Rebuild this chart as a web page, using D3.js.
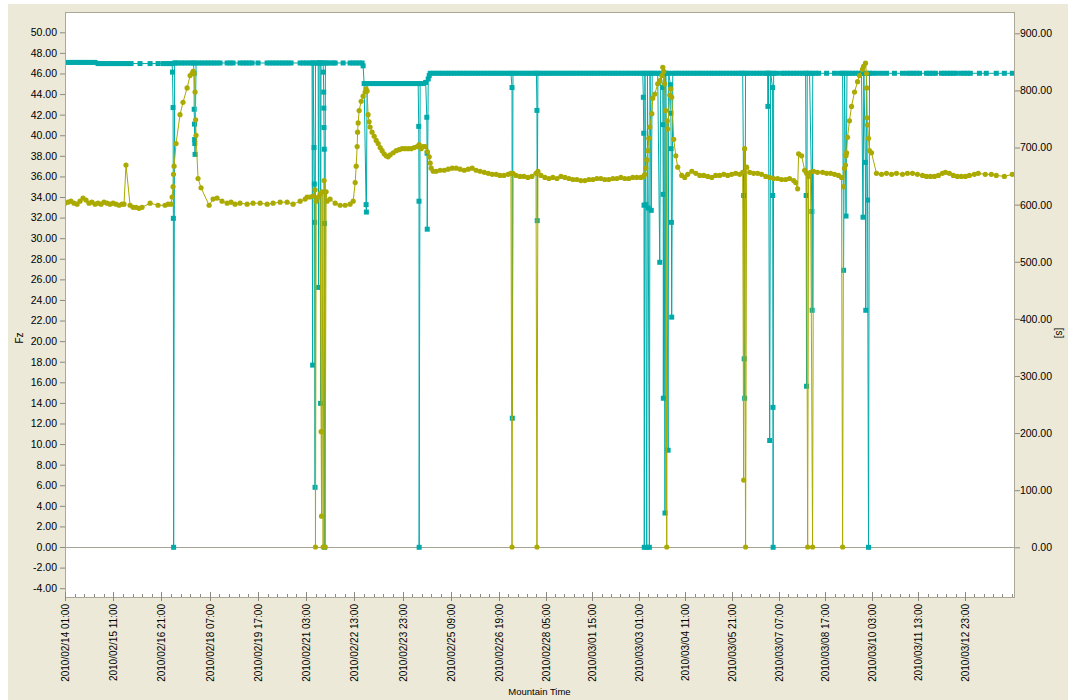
<!DOCTYPE html>
<html>
<head>
<meta charset="utf-8">
<script src="https://cdn.jsdelivr.net/npm/d3@7"></script>
<style>
  html, body { margin: 0; padding: 0; background: #ffffff; }
  svg { display: block; }
</style>
</head>
<body>
<svg id="chart" width="1068" height="700"></svg>
<script>
// ---- Data -------------------------------------------------------------
// Sample times are hours after 2010/02/14 01:00 (Mountain Time).

// Fz series (left axis)
const fzHours = [
  0.0, 2.1, 4.2, 6.3, 8.5, 10.6, 12.7, 14.8, 16.9, 19.0, 21.2, 23.3, 25.4, 27.5, 29.6, 31.7, 33.9, 36.0, 38.1, 40.2, 41.6,
  43.0, 45.9, 48.0, 50.1, 52.2, 54.3, 60.0, 65.6, 70.5, 72.7, 74.8,
  75.5, 76.2, 76.5, 76.9, 78.3, 81.1, 83.2, 86.1, 88.2, 89.6, 90.3, 91.0, 91.7, 92.1, 92.4, 93.8, 95.9,
  101.6, 104.4, 107.2, 110.7, 114.3, 117.1, 119.9, 123.4, 128.4, 132.6, 137.6, 142.5, 146.7, 151.7, 156.6, 160.8, 165.8, 169.3, 170.7, 172.8, 174.9,
  176.3, 176.6, 177.1, 178.5, 179.9, 180.6, 180.9, 181.3, 182.0, 182.7, 183.4, 184.1, 184.8,
  186.9, 190.5, 194.0, 197.5, 201.0, 203.2,
  204.6, 205.3, 206.0, 206.3, 206.7, 207.4, 208.8, 210.2, 211.6, 212.3, 213.0, 213.7, 214.4, 215.1, 216.5, 218.0, 219.4, 220.8, 222.2, 223.6, 225.0,
  226.4, 227.8, 229.3, 231.4, 233.5, 235.6, 237.7, 239.8, 242.0, 244.1, 246.2, 248.3, 249.7, 251.1, 252.5, 253.9, 255.4, 256.8, 257.5, 258.2, 259.6,
  261.7, 264.5, 267.4, 270.2, 273.0, 275.8, 278.6, 281.5, 284.3, 287.1, 289.9, 292.7, 295.6, 298.4, 301.2, 304.0, 306.7, 309.6, 312.6, 314.7,
  315.5, 316.2, 318.4, 321.3, 324.2, 327.1, 330.0, 333.0, 333.7, 334.4, 336.6, 339.5, 342.4, 345.3, 348.3, 351.2, 354.1, 357.0, 359.9, 362.8,
  365.7, 368.7, 371.6, 374.5, 377.4, 380.3, 383.2, 386.1, 389.1, 392.0, 394.9, 397.8, 400.7, 403.6, 406.5, 409.5, 411.6,
  412.4, 413.1, 413.8, 414.6, 415.3, 416.0, 417.5, 418.2, 419.7, 421.8, 423.3, 424.8, 425.5, 426.2, 426.9, 427.7, 428.4, 428.8, 429.1, 430.6, 431.3, 432.0, 433.5, 435.0, 436.4,
  439.3, 441.5, 443.7, 446.7, 449.6, 452.5, 455.4, 458.3, 461.2, 464.1, 467.0, 470.0, 472.9, 475.8, 478.7, 481.6, 483.8,
  484.5, 485.2, 485.9, 486.7,
  488.9, 491.8, 494.7, 497.6, 500.6, 503.5, 506.4, 509.3, 512.2, 515.1, 518.0, 521.0, 522.4, 523.9, 524.6, 526.8, 529.0, 530.4, 531.2, 531.9,
  533.3, 534.8, 535.5, 538.4, 542.1, 545.0, 547.9, 550.8, 553.7, 555.9, 556.7,
  557.4, 558.1, 558.8, 559.2, 559.6, 560.3, 561.7, 563.2, 565.4, 567.6, 569.0, 571.2, 572.0, 573.4, 574.1, 574.3, 574.5, 574.9, 575.6, 576.3, 577.8,
  581.4, 585.1, 588.7, 592.4, 596.0, 600.4, 604.0, 607.7, 611.3, 615.0, 617.9, 620.8, 623.7, 626.6, 629.5, 631.7, 634.6, 637.5, 640.4, 643.3,
  646.3, 649.2, 652.8, 655.7, 660.8, 665.2, 668.8, 674.7, 680.5
];
const fzValues = [
  33.4, 33.5, 33.6, 33.4, 33.3, 33.6, 33.9, 33.7, 33.4, 33.5, 33.3, 33.4, 33.3, 33.5, 33.4, 33.3, 33.4, 33.3, 33.2, 33.3, 33.3,
  37.1, 33.2, 33.0, 33.0, 32.9, 33.0, 33.4, 33.2, 33.2, 33.3, 33.3,
  34.0, 35.0, 36.2, 37.0, 39.2, 42.0, 43.2, 44.6, 45.8, 46.0, 46.2, 46.0, 44.2, 41.5, 40.0, 35.8, 34.9,
  33.2, 33.8, 33.9, 33.6, 33.4, 33.5, 33.3, 33.4, 33.3, 33.4, 33.4, 33.3, 33.4, 33.5, 33.5, 33.3, 33.6, 33.8, 34.0, 34.0, 34.1,
  34.7, 0, 33.6, 34.0, 34.3, 11.2, 3.0, 34.5, 0, 35.6, 0, 34.5, 33.6,
  33.8, 33.4, 33.2, 33.2, 33.3, 33.6,
  35.4, 37.0, 38.9, 40.3, 41.2, 42.4, 43.3, 43.8, 44.2, 44.5, 44.3, 42.0, 41.3, 40.8, 40.3, 39.9, 39.5, 39.2, 38.8, 38.5, 38.2,
  38.0, 37.9, 38.1, 38.3, 38.5, 38.6, 38.7, 38.7, 38.7, 38.7, 38.8, 38.9, 39.1, 38.7, 38.9, 38.9, 38.4, 37.9, 37.3, 36.8, 36.5,
  36.5, 36.6, 36.6, 36.7, 36.8, 36.8, 36.7, 36.6, 36.7, 36.8, 36.6, 36.5, 36.4, 36.3, 36.2, 36.2, 36.1, 36.1, 36.2, 36.3,
  0, 36.3, 36.1, 36.0, 36.0, 35.9, 36.0, 36.3, 0, 36.5, 36.1, 35.9, 35.8, 35.9, 35.8, 36.0, 35.9, 35.8, 35.7, 35.7,
  35.6, 35.6, 35.7, 35.7, 35.8, 35.8, 35.7, 35.7, 35.8, 35.8, 35.9, 35.8, 35.8, 35.9, 35.9, 35.9, 36.0,
  36.2, 36.8, 37.6, 38.5, 39.7, 40.8, 42.1, 43.6, 44.0, 45.0, 45.3, 45.8, 46.6, 46.2, 45.0, 42.4, 0, 41.4, 40.6, 43.9, 44.5, 43.7, 39.6, 38.0, 36.9,
  36.1, 35.9, 36.2, 36.5, 36.3, 36.1, 36.1, 36.0, 35.9, 36.1, 36.1, 36.2, 36.1, 36.2, 36.3, 36.2, 36.4,
  6.5, 38.7, 0, 36.9,
  36.4, 36.3, 36.3, 36.2, 36.0, 35.9, 35.8, 35.8, 35.7, 35.7, 35.8, 35.6, 35.4, 34.8, 38.2, 38.0, 36.6, 36.3, 0, 36.0,
  36.4, 0, 36.5, 36.4, 36.4, 36.3, 36.3, 36.2, 36.1, 35.9, 0,
  35.0, 36.8, 37.1, 38.0, 38.3, 39.8, 41.4, 42.8, 44.2, 45.2, 45.8, 46.4, 46.7, 47.0, 46.0, 44.6, 41.7, 41.0, 39.7, 38.5, 38.3,
  36.3, 36.2, 36.3, 36.2, 36.3, 36.2, 36.3, 36.3, 36.2, 36.1, 36.0, 36.0, 36.0, 36.1, 36.3, 36.4, 36.3, 36.1, 36.0, 36.0,
  36.0, 36.1, 36.2, 36.3, 36.2, 36.2, 36.1, 36.0, 36.2
];

// [s] series (right axis)
const secHours = [
  0.0, 2.1, 4.2, 6.3, 8.5, 10.6, 12.7, 14.8, 16.9, 19.0, 21.2, 23.3, 25.4, 27.5, 29.6, 31.7, 33.9, 36.0, 38.1, 40.2,
  42.3, 44.4, 46.6, 52.9, 60.0, 65.6, 69.1, 71.2, 73.4, 75.5,
  75.8, 76.2, 76.4, 76.6, 77.3,
  78.3, 80.4, 82.5, 84.6, 86.8, 88.9, 90.6,
  91.0, 91.1, 91.3, 91.4, 91.5, 91.7, 92.4,
  94.5, 96.6, 98.8, 100.9, 103.0, 105.1, 107.2, 109.3, 114.3, 116.4, 118.5, 123.4, 125.6, 127.7, 129.8, 131.9,
  136.1, 142.5, 144.6, 146.7, 148.8, 151.0, 153.1, 155.2, 157.3, 159.4, 165.8, 167.9, 170.0, 172.1, 174.2,
  174.6, 174.9, 175.6, 175.8, 176.0, 176.3, 176.6, 178.5, 178.8, 179.1, 179.9, 180.2, 180.5,
  182.0, 182.2, 182.4, 182.5, 182.6, 182.8, 182.9, 183.1, 183.6,
  184.8, 186.9, 189.1, 190.5, 196.1, 201.0, 203.2, 205.3, 207.4, 209.5,
  210.2, 210.9, 212.3, 212.5, 213.0,
  215.1, 217.3, 219.4, 221.5, 223.6, 225.7, 227.8, 230.0, 232.1, 234.2, 236.3, 238.4, 240.5, 242.7, 244.8, 246.9, 249.0,
  249.4, 249.6, 249.7, 250.4, 252.5, 254.3, 255.1, 255.3, 255.4, 256.1, 256.8, 257.5,
  259.6, 261.7, 263.8, 265.9, 268.1, 270.2, 272.3, 274.4, 276.5, 278.6, 280.8, 282.9, 285.0, 287.1,
  289.2, 291.3, 293.4, 295.6, 297.7, 299.8, 301.9, 304.0, 306.0, 308.2, 310.4, 312.6, 314.7,
  315.5, 315.7, 316.2,
  318.4, 320.6, 322.8, 324.9, 327.1, 329.3, 331.5, 333.3,
  333.7, 333.9, 334.4,
  336.6, 338.8, 341.0, 343.2, 345.3, 347.5, 349.7, 351.9, 354.1, 356.3, 358.5, 360.6, 362.8, 365.0, 367.2, 369.4, 371.6, 373.8,
  375.9, 378.1, 380.3, 382.5, 384.7, 386.9, 389.1, 391.2, 393.4, 395.6, 397.8, 400.0, 402.2, 404.4, 406.5, 408.7, 410.9,
  411.3, 411.6, 411.8, 412.0, 412.5, 413.1, 413.8, 414.3, 414.9, 415.7, 416.2, 417.1, 417.8, 419.7, 421.8, 423.3,
  424.0, 425.5, 425.6, 425.8, 425.9, 426.4, 427.1, 427.7, 429.4, 429.8, 431.1, 431.4, 431.6, 431.8, 432.0, 432.8,
  435.0, 437.1, 439.3, 441.5, 443.7, 445.9, 448.1, 450.3, 452.5, 454.6, 456.8, 459.0, 461.2, 463.4, 465.6, 467.7,
  469.9, 472.1, 474.3, 476.5, 478.7, 480.9, 483.0, 483.8,
  484.5, 484.9, 485.2, 485.9,
  487.4, 489.6, 491.8, 494.0, 496.2, 498.4, 500.6, 502.0,
  502.2, 502.6, 503.5, 504.2, 505.6, 505.7, 505.9, 506.0, 506.4,
  508.5, 512.2, 514.4, 516.6, 518.8, 521.0, 523.1, 525.3, 527.5, 529.7,
  530.1, 530.4, 530.9, 532.6, 534.3, 534.5, 534.9,
  537.0, 539.2, 545.0, 550.8, 554.5, 556.7,
  557.4, 558.1, 559.2, 559.9,
  561.7, 563.9, 566.1, 568.3, 570.5,
  571.6, 572.2, 573.3, 573.6, 574.1, 574.9, 575.6, 576.3,
  578.5, 581.4, 585.1, 588.7, 594.5, 600.4, 604.0, 606.2, 608.4, 610.6, 612.8, 617.9, 620.0, 622.2, 624.4,
  628.8, 631.0, 633.2, 635.3, 637.5, 639.7, 643.3, 645.5, 647.7, 649.9, 656.5, 661.5, 668.8, 674.7, 680.5
];
const secValues = [
  849, 849, 849, 849, 849, 849, 849, 849, 849, 849, 849, 847, 847, 847, 847, 847, 847, 847, 847, 847,
  847, 847, 847, 847, 847, 847, 847, 847, 847, 847,
  832, 770, 576, 0, 848,
  848, 848, 848, 848, 848, 848, 848,
  830, 767, 741, 714, 707, 688, 848,
  848, 848, 848, 848, 848, 848, 848, 848, 848, 848, 848, 848, 848, 848, 848, 848,
  848, 848, 848, 848, 848, 848, 848, 848, 848, 848, 848, 848, 848, 848, 848,
  319, 848, 700, 636, 569, 105, 848, 848, 455, 848, 848, 252, 848,
  848, 832, 797, 769, 735, 697, 567, 0, 848,
  848, 848, 848, 848, 848, 848, 848, 848, 848, 848,
  843, 812, 600, 587, 812,
  812, 812, 812, 812, 812, 812, 812, 812, 812, 812, 812, 812, 812, 812, 812, 812, 812,
  737, 606, 0, 812, 812, 814, 753, 690, 557, 820, 826, 830,
  830, 830, 830, 830, 830, 830, 830, 830, 830, 830, 830, 830, 830, 830,
  830, 830, 830, 830, 830, 830, 830, 830, 830, 830, 830, 830, 830,
  805, 226, 830,
  830, 830, 830, 830, 830, 830, 830, 830,
  765, 572, 830,
  830, 830, 830, 830, 830, 830, 830, 830, 830, 830, 830, 830, 830, 830, 830, 830, 830, 830,
  830, 830, 830, 830, 830, 830, 830, 830, 830, 830, 830, 830, 830, 830, 830, 830, 830,
  788, 725, 599, 0, 830, 600, 0, 830, 594, 0, 830, 590, 830, 830, 830, 499,
  830, 805, 740, 618, 261, 830, 60, 830, 170, 830, 810, 760, 698, 569, 403, 830,
  830, 830, 830, 830, 830, 830, 830, 830, 830, 830, 830, 830, 830, 830, 830, 830,
  830, 830, 830, 830, 830, 830, 830, 830,
  616, 330, 261, 830,
  830, 830, 830, 830, 830, 830, 830, 830,
  772, 830, 187, 830, 805, 616, 245, 0, 830,
  830, 830, 830, 830, 830, 830, 830, 830, 830, 830,
  616, 282, 830, 830, 588, 415, 830,
  830, 830, 830, 830, 830, 830,
  485, 830, 580, 830,
  830, 830, 830, 830, 830,
  578, 830, 674, 415, 830, 608, 0, 830,
  830, 830, 830, 830, 830, 830, 830, 830, 830, 830, 830, 830, 830, 830, 830,
  830, 830, 830, 830, 830, 830, 830, 830, 830, 830, 830, 830, 830, 830, 830
];

// Axis ticks
const fzTicks = [-4, -2, 0, 2, 4, 6, 8, 10, 12, 14, 16, 18, 20, 22, 24, 26, 28, 30, 32, 34, 36, 38, 40, 42, 44, 46, 48, 50];
const secTicks = [0, 100, 200, 300, 400, 500, 600, 700, 800, 900];
const timeTickHours = [0, 34, 68, 102, 136, 170, 204, 238, 272, 306, 340, 374, 408, 442, 476, 510, 544, 578, 612, 646];
const minorTickStep = 6.8;

// ---- Layout -------------------------------------------------------------
const frame = { left: 65, top: 12, right: 1014, bottom: 597 };
const fontFamily = '"Liberation Sans", Arial, sans-serif';
const fzColor = '#AAAA00';
const secColor = '#00AAAA';

const start = Date.UTC(2010, 1, 14, 1, 0);
const at = h => new Date(start + h * 3600e3);
const endHours = 681.2;

const x = d3.scaleTime()
  .domain([at(0), at(306), at(646)])
  .range([65, 499, 965]);
const yL = d3.scaleLinear().domain([-4, 50]).range([588.2, 32.3]);
const yR = d3.scaleLinear().domain([0, 900]).range([547.3, 33.3]);

const svg = d3.select('#chart');

// window panel and plot area
svg.append('rect')
  .attr('x', 8).attr('y', 4).attr('width', 1060).attr('height', 696)
  .attr('fill', '#ECE9D8');
svg.append('rect')
  .attr('x', frame.left + 0.5).attr('y', frame.top + 0.5)
  .attr('width', frame.right - frame.left).attr('height', frame.bottom - frame.top)
  .attr('fill', '#ffffff').attr('stroke', '#ACA899');

svg.append('defs').append('clipPath').attr('id', 'plot-clip')
  .append('rect')
  .attr('x', frame.left + 1).attr('y', frame.top + 1)
  .attr('width', frame.right - frame.left - 1).attr('height', frame.bottom - frame.top - 1);

// zero line
svg.append('line')
  .attr('x1', frame.left).attr('x2', frame.right)
  .attr('y1', Math.round(yL(0)) + 0.5).attr('y2', Math.round(yL(0)) + 0.5)
  .attr('stroke', '#A5A394');

// left axis
const gL = svg.append('g')
  .attr('transform', `translate(${frame.left},0)`)
  .call(d3.axisLeft(yL).tickValues(fzTicks).tickFormat(d => d.toFixed(2)).tickSize(5).tickPadding(3));
gL.select('.domain').remove();
gL.selectAll('line').attr('stroke', '#8C8A80');
gL.selectAll('text').attr('font-family', fontFamily).attr('font-size', 10.5).attr('fill', '#000');

// right axis
const gR = svg.append('g')
  .attr('transform', `translate(${frame.right + 1},0)`)
  .call(d3.axisRight(yR).tickValues(secTicks).tickFormat(d => d.toFixed(2)).tickSize(5).tickPadding(3));
gR.select('.domain').remove();
gR.selectAll('line').attr('stroke', '#8C8A80');
gR.selectAll('text').attr('font-family', fontFamily).attr('font-size', 10.5).attr('fill', '#000')
  .attr('text-anchor', 'end').attr('x', 37);

// time axis: minor and major ticks
const minorHours = d3.range(0, endHours, minorTickStep);
const gX = svg.append('g');
gX.selectAll('line.minor').data(minorHours).join('line')
  .attr('class', 'minor')
  .attr('x1', d => Math.round(x(at(d))) + 0.5).attr('x2', d => Math.round(x(at(d))) + 0.5)
  .attr('y1', frame.bottom - 3).attr('y2', frame.bottom)
  .attr('stroke', '#8C8A80');
gX.selectAll('line.major').data(timeTickHours).join('line')
  .attr('class', 'major')
  .attr('x1', d => Math.round(x(at(d))) + 0.5).attr('x2', d => Math.round(x(at(d))) + 0.5)
  .attr('y1', frame.bottom - 5).attr('y2', frame.bottom + 4)
  .attr('stroke', '#8C8A80');
const fmt = d3.utcFormat('%Y/%m/%d %H:%M');
gX.selectAll('text').data(timeTickHours).join('text')
  .attr('transform', d => `translate(${x(at(d)) + 4},${frame.bottom + 7}) rotate(-90)`)
  .attr('text-anchor', 'end')
  .attr('font-family', fontFamily).attr('font-size', 10).attr('fill', '#000')
  .text(d => fmt(at(d)));

// axis titles
svg.append('text')
  .attr('x', (frame.left + frame.right) / 2 + 0).attr('y', 695)
  .attr('text-anchor', 'middle')
  .attr('font-family', fontFamily).attr('font-size', 9.5).attr('fill', '#000')
  .text('Mountain Time');
svg.append('text')
  .attr('transform', 'translate(23,338) rotate(-90)')
  .attr('text-anchor', 'middle')
  .attr('font-family', fontFamily).attr('font-size', 10).attr('fill', '#000')
  .text('Fz');
svg.append('text')
  .attr('transform', 'translate(1056,333) rotate(90)')
  .attr('text-anchor', 'middle')
  .attr('font-family', fontFamily).attr('font-size', 10).attr('fill', '#000')
  .text('[s]');

// ---- Series -----------------------------------------------------------
const secData = secHours.map((h, i) => ({ t: at(h), v: secValues[i] }));
const fzData = fzHours.map((h, i) => ({ t: at(h), v: fzValues[i] }));

const plot = svg.append('g').attr('clip-path', 'url(#plot-clip)');

const secLine = d3.line().x(d => x(d.t)).y(d => yR(d.v));
plot.append('path').datum(secData)
  .attr('d', secLine).attr('fill', 'none')
  .attr('stroke', secColor).attr('stroke-width', 1);
plot.append('g').selectAll('rect').data(secData).join('rect')
  .attr('x', d => x(d.t) - 2.5).attr('y', d => yR(d.v) - 2.5)
  .attr('width', 5).attr('height', 5)
  .attr('fill', secColor);

const fzLine = d3.line().x(d => x(d.t)).y(d => yL(d.v));
plot.append('path').datum(fzData)
  .attr('d', fzLine).attr('fill', 'none')
  .attr('stroke', fzColor).attr('stroke-width', 1);
plot.append('g').selectAll('circle').data(fzData).join('circle')
  .attr('cx', d => x(d.t)).attr('cy', d => yL(d.v))
  .attr('r', 2.6)
  .attr('fill', fzColor);
</script>
</body>
</html>
